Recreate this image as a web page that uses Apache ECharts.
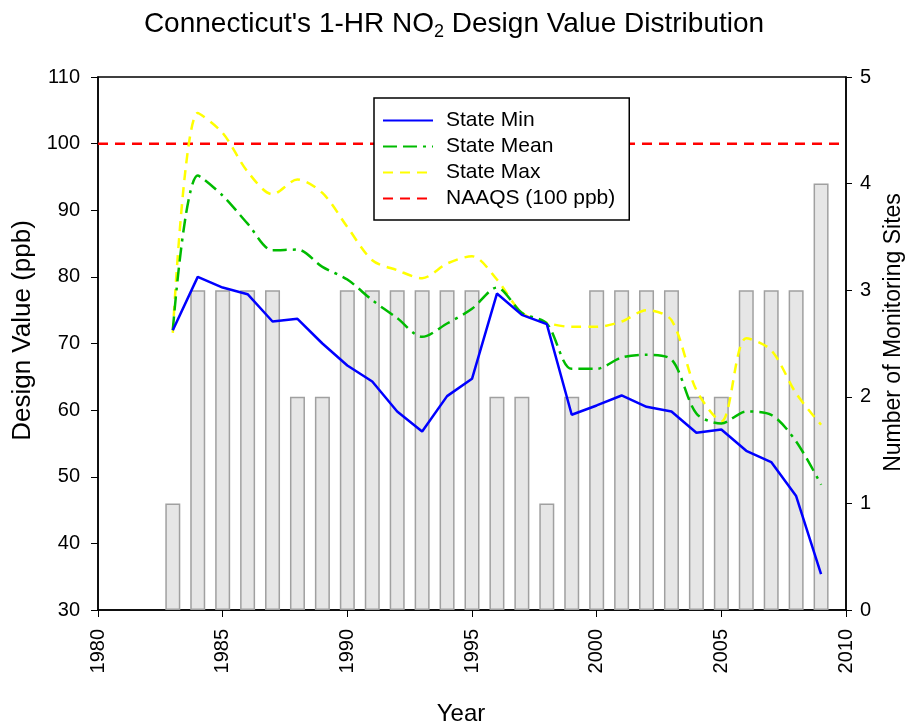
<!DOCTYPE html>
<html><head><meta charset="utf-8">
<script src="https://cdn.jsdelivr.net/npm/echarts@6/dist/echarts.min.js"></script>
<style>html,body{margin:0;padding:0;background:#fff}#c{width:908px;height:725px}</style>
</head><body><div id="c"></div>
<script>
var years = [1983,1984,1985,1986,1987,1988,1989,1990,1991,1992,1993,1994,1995,1996,1997,1998,1999,2000,2001,2002,2003,2004,2005,2006,2007,2008,2009];
var stateMin = [72,80,78.4,77.4,73.3,73.7,70,66.7,64.3,59.8,56.8,62.1,64.7,77.5,74.3,72.9,59.3,60.7,62.2,60.5,59.8,56.6,57.1,53.9,52.2,47.1,35.4];
var stateMean = [72,95.2,92.2,88,84,84.1,81.5,79.6,76.5,73.8,71,73,75.2,78.4,74.6,73,66.2,66.2,67.9,68.3,67.6,59.5,58,59.8,59.3,55.3,48.8];
var stateMax = [71.6,104.6,101.6,95.8,92.4,94.6,92.6,87.5,82.5,81,79.8,82,83.1,79.6,74.6,73.1,72.5,72.5,73.3,75,73.5,63,58.3,70.8,69,62.5,57.8];
var siteCounts = [1,3,3,3,3,2,2,3,3,3,3,3,3,2,2,1,2,3,3,3,3,2,2,3,3,3,4];
var naaqsYears = [1980,2010];
var naaqsValue = [100,100];

function pairs(xs, ys){ return xs.map(function(x,i){return [x, ys[i]];}); }

var font = 'Liberation Sans, Arial, sans-serif';
var chart = echarts.init(document.getElementById('c'));
chart.setOption({
  animation:false,
  title:{
    text:"Connecticut's 1-HR NO{sub|2} Design Value Distribution",
    left:'center', top:2,
    textStyle:{fontFamily:font,fontSize:28,fontWeight:'normal',color:'#000',
      rich:{sub:{fontFamily:font,fontSize:18,color:'#000',verticalAlign:'bottom',padding:[16,0,0,0]}}}
  },
  legend:{
    orient:'vertical', left:374, top:98, z:10,
    backgroundColor:'#ffffff',
    borderColor:'#000', borderWidth:1.5, padding:[12,14,11,8],
    itemWidth:50, itemHeight:14, itemGap:5,
    itemStyle:{opacity:0,color:'transparent',borderWidth:0},
    formatter:function(n){ return '{s|}' + n; },
    textStyle:{fontFamily:font,fontSize:21,lineHeight:21,color:'#000',
      rich:{s:{width:8}}},
    data:['State Min','State Mean','State Max','NAAQS (100 ppb)']
  },
  grid:{left:98,right:62,top:77,bottom:115,show:true,borderColor:'#000',borderWidth:1.5,
    backgroundColor:'transparent',containLabel:false,outerBoundsMode:'none'},
  xAxis:{
    type:'value',min:1980,max:2010,interval:5,
    name:'Year',nameLocation:'middle',nameGap:92,
    nameTextStyle:{fontFamily:font,fontSize:24,color:'#000',padding:[0,22,0,0]},
    axisLine:{lineStyle:{color:'#000',width:1.5}},
    axisTick:{show:true,length:7,lineStyle:{color:'#000'}},
    axisLabel:{rotate:90,fontFamily:font,fontSize:20,color:'#000',margin:19,formatter:function(v){return String(v);}},
    splitLine:{show:false}
  },
  yAxis:[{
    type:'value',min:30,max:110,interval:10,
    name:'Design Value (ppb)',nameLocation:'middle',nameGap:61,
    nameTextStyle:{fontFamily:font,fontSize:26,color:'#000',padding:[0,0,0,26]},
    axisLine:{show:true,lineStyle:{color:'#000',width:1.5}},
    axisTick:{show:true,length:7,lineStyle:{color:'#000'}},
    axisLabel:{fontFamily:font,fontSize:20,color:'#000',margin:18},
    splitLine:{show:false}
  },{
    type:'value',min:0,max:5,interval:1,position:'right',
    name:'Number of Monitoring Sites',nameLocation:'middle',nameGap:35,nameRotate:90,
    nameTextStyle:{fontFamily:font,fontSize:23,color:'#000',padding:[0,0,0,22]},
    axisLine:{show:true,lineStyle:{color:'#000',width:1.5}},
    axisTick:{show:true,length:6,lineStyle:{color:'#000'}},
    axisLabel:{fontFamily:font,fontSize:20,color:'#000',margin:14},
    splitLine:{show:false}
  }],
  series:[
    {name:'Sites',type:'bar',yAxisIndex:1,barWidth:15,data:pairs(years,siteCounts),
      itemStyle:{color:'#e6e6e6',borderColor:'#a0a0a0',borderWidth:1.5},z:1},
    {name:'NAAQS (100 ppb)',type:'line',data:pairs(naaqsYears,naaqsValue),symbol:'none',
      lineStyle:{color:'#ff0000',width:2.5,type:[10,7]},itemStyle:{color:'#ff0000'},z:2},
    {name:'State Max',type:'line',data:pairs(years,stateMax),symbol:'none',smooth:0.3,
      lineStyle:{color:'#ffff00',width:2.5,type:[10,7]},itemStyle:{color:'#ffff00'},z:3},
    {name:'State Mean',type:'line',data:pairs(years,stateMean),symbol:'none',smooth:0.3,
      lineStyle:{color:'#00bb00',width:2.5,type:[14,6,14,6,3,6]},itemStyle:{color:'#00bb00'},z:4},
    {name:'State Min',type:'line',data:pairs(years,stateMin),symbol:'none',
      lineStyle:{color:'#0000ff',width:2.5},itemStyle:{color:'#0000ff'},z:5}
  ]
});
</script></body></html>
